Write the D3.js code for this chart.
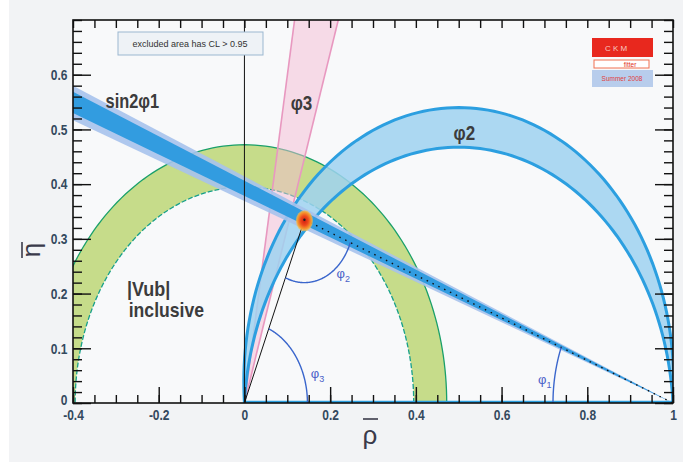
<!DOCTYPE html>
<meta charset="utf-8">
<script src="https://d3js.org/d3.v7.min.js"></script>
<body style="margin:0;background:#fff">
<div id="svg"></div>
<script>
// constraints (rho-bar, eta-bar)
var apex = [0.14, 0.335];            // global fit point
var vubRadii = [0.395, 0.472];       // |Vub| inclusive ring, inner / outer radius
var phi2Peaks = [0.4675, 0.54];      // phi2 arcs, eta at rho = 0.5
var phi3Edges = [0.117, 0.219];      // phi3 wedge, rho where edges cross eta = 0.7
var s2p1Outer = [0.517, 0.58];       // sin2phi1 band, eta at rho = -0.4 (outer)
var s2p1Inner = [0.53, 0.569];       // sin2phi1 band, eta at rho = -0.4 (inner)
var angleRadii = {phi1: 0.28, phi2: 0.115, phi3: 0.147};
var xTicks = [-0.4, -0.2, 0, 0.2, 0.4, 0.6, 0.8, 1];
var yTicks = [0, 0.1, 0.2, 0.3, 0.4, 0.5, 0.6];
var xMinor = d3.range(-0.4, 1.0001, 0.05);
var yMinor = d3.range(0, 0.7001, 0.02);

var W = 683, H = 464;
var x = d3.scaleLinear().domain([-0.4, 1]).range([73, 673]);
var y = d3.scaleLinear().domain([0, 0.7]).range([403, 20]);
var line = d3.line().x(function(d){return x(d[0]);}).y(function(d){return y(d[1]);});
var lf = 'Liberation Sans, Arial, sans-serif';

var svg = d3.select('#svg').append('svg').attr('width', W).attr('height', H);
svg.append('rect').attr('x', 9).attr('y', 0).attr('width', W - 9).attr('height', 462).attr('fill', '#f2f3f5');
svg.append('rect').attr('x', 73).attr('y', 20).attr('width', 600).attr('height', 383).attr('fill', '#f8f9fa');

var defs = svg.append('defs');
defs.append('clipPath').attr('id', 'clip').append('rect')
	.attr('x', 73).attr('y', 20).attr('width', 600).attr('height', 383);
var grad = defs.append('radialGradient').attr('id', 'blob');
grad.append('stop').attr('offset', '0%').attr('stop-color', '#d01e12');
grad.append('stop').attr('offset', '45%').attr('stop-color', '#ee4a1c');
grad.append('stop').attr('offset', '80%').attr('stop-color', '#f59a30');
grad.append('stop').attr('offset', '100%').attr('stop-color', '#f8c050').attr('stop-opacity', 0.6);

function arcPts(cx, cy, r, a0, a1){
	var n = 120, pts = [];
	for (var i = 0; i <= n; i++){
		var a = a0 + (a1 - a0) * i / n;
		pts.push([cx + r * Math.cos(a), cy + r * Math.sin(a)]);
	}
	return pts;
}
// circle through (0,0) and (1,0) with given top
function phi2Arc(p){
	var c = (p * p - 0.25) / (2 * p), r = p - c;
	var a1 = Math.atan2(-c, 0.5), a0 = Math.atan2(-c, -0.5);
	if (a0 < a1) a0 += 2 * Math.PI;
	return arcPts(0.5, c, r, a1, a0);
}

var g = svg.append('g').attr('clip-path', 'url(#clip)');

// |Vub| ring
var vub = arcPts(0, 0, vubRadii[1], 0, Math.PI).concat(arcPts(0, 0, vubRadii[0], Math.PI, 0));
g.append('path').attr('d', line(vub) + 'Z').attr('fill', '#c6dc8a');
g.append('path').attr('d', line(arcPts(0, 0, vubRadii[1], 0, Math.PI))).attr('fill', 'none')
	.attr('stroke', '#1aa06a').attr('stroke-width', 1.3);
g.append('path').attr('d', line(arcPts(0, 0, vubRadii[0], 0, Math.PI))).attr('fill', 'none')
	.attr('stroke', '#17a08a').attr('stroke-width', 1.3).attr('stroke-dasharray', '5,2');

// phi3 wedge
var k = 1.3;
var p3 = [[0, 0], [phi3Edges[0] * k, 0.7 * k], [phi3Edges[1] * k, 0.7 * k]];
g.append('path').attr('d', line(p3) + 'Z').attr('fill', '#f4bcd4').attr('fill-opacity', 0.5);
phi3Edges.forEach(function(e){
	g.append('path').attr('d', line([[0, 0], [e * k, 0.7 * k]])).attr('stroke', '#e898c0').attr('stroke-width', 1.6);
});

// phi2 crescent
var outer2 = phi2Arc(phi2Peaks[1]), inner2 = phi2Arc(phi2Peaks[0]);
g.append('path').attr('d', line(outer2.concat(inner2.slice().reverse())) + 'Z')
	.attr('fill', '#9fd2f0').attr('fill-opacity', 0.85);
[outer2, inner2].forEach(function(a){
	g.append('path').attr('d', line(a)).attr('fill', 'none').attr('stroke', '#2c9fe0').attr('stroke-width', 3);
});

// sin2phi1 wedge from (1,0)
function wedge(e){
	var s = 1.5 / 1.4;
	return [[1, 0], [-0.5, e[0] * s], [-0.5, e[1] * s]];
}
g.append('path').attr('d', line(wedge(s2p1Outer)) + 'Z').attr('fill', '#a6c2ec').attr('fill-opacity', 0.9);
g.append('path').attr('d', line(wedge(s2p1Inner)) + 'Z').attr('fill', '#329ce0');

// rho = 0 line and base of the triangle
g.append('line').attr('x1', x(0)).attr('x2', x(0)).attr('y1', y(0)).attr('y2', y(0.7))
	.attr('stroke', '#111').attr('stroke-width', 1);
g.append('line').attr('x1', x(0)).attr('x2', x(1)).attr('y1', y(0) - 1).attr('y2', y(0) - 1)
	.attr('stroke', '#2c9fe0').attr('stroke-width', 2.5);

// triangle sides
g.append('path').attr('d', line([[0, 0], apex])).attr('stroke', '#111').attr('stroke-width', 1);
g.append('path').attr('d', line([apex, [1, 0]])).attr('stroke', '#111').attr('stroke-width', 1.4)
	.attr('stroke-dasharray', '1.5,5');

// angle arcs
var aApex = Math.atan2(apex[1], apex[0]);
var arcs = [
	{pts: arcPts(0, 0, angleRadii.phi3, 0, aApex), lab: '3', at: [0.155, 0.045]},
	{pts: arcPts(apex[0], apex[1], angleRadii.phi2, Math.atan2(-apex[1], -apex[0]), Math.atan2(-apex[1], 1 - apex[0])), lab: '2', at: [0.215, 0.228]},
	{pts: arcPts(1, 0, angleRadii.phi1, Math.PI, Math.atan2(apex[1], apex[0] - 1)), lab: '1', at: [0.685, 0.035]}
];
arcs.forEach(function(a){
	g.append('path').attr('d', line(a.pts)).attr('fill', 'none').attr('stroke', '#3a66cc').attr('stroke-width', 1.4);
	var t = svg.append('text').attr('x', x(a.at[0])).attr('y', y(a.at[1]))
		.attr('font-family', lf).attr('font-size', 13)
		.attr('fill', '#4a60c8').text('φ');
	t.append('tspan').attr('dy', 4).attr('font-size', 9).text(a.lab);
});

// fit point
g.append('ellipse').attr('cx', x(apex[0])).attr('cy', y(apex[1]) + 1).attr('rx', 8.5).attr('ry', 10.5)
	.attr('fill', 'url(#blob)');
g.append('circle').attr('cx', x(apex[0])).attr('cy', y(apex[1])).attr('r', 1.2).attr('fill', '#222');

// axes (labels squeezed horizontally to mimic a narrow face)
function styleAxis(sel){
	sel.select('.domain').remove();
	sel.selectAll('line').attr('stroke', '#111').attr('stroke-width', 1.4);
	sel.selectAll('text').attr('font-family', lf).attr('font-weight', 'bold')
		.attr('font-size', 15).attr('fill', '#34495e').attr('transform', 'scale(0.8,1)');
}
var fmt = function(d){ return String(d); };
styleAxis(svg.append('g').attr('transform', 'translate(0,403)')
	.call(d3.axisBottom(x).tickValues(xTicks).tickSize(-16).tickPadding(6).tickFormat(fmt)));
styleAxis(svg.append('g').attr('transform', 'translate(0,403)')
	.call(d3.axisBottom(x).tickValues(xMinor).tickSize(-8).tickFormat('')));
styleAxis(svg.append('g').attr('transform', 'translate(0,20)')
	.call(d3.axisTop(x).tickValues(xMinor).tickSize(-8).tickFormat('')));
var yax = svg.append('g').attr('transform', 'translate(73,0)')
	.call(d3.axisLeft(y).tickValues(yTicks).tickSize(-18).tickPadding(7).tickFormat(fmt));
styleAxis(yax);
yax.selectAll('.tick text').filter(function(d){ return d === 0; }).attr('dy', '0.1em');
styleAxis(svg.append('g').attr('transform', 'translate(73,0)')
	.call(d3.axisLeft(y).tickValues(yMinor).tickSize(-9).tickFormat('')));
styleAxis(svg.append('g').attr('transform', 'translate(673,0)')
	.call(d3.axisRight(y).tickValues(yTicks).tickSize(-18).tickFormat('')));
styleAxis(svg.append('g').attr('transform', 'translate(673,0)')
	.call(d3.axisRight(y).tickValues(yMinor).tickSize(-9).tickFormat('')));
svg.append('rect').attr('x', 73).attr('y', 20).attr('width', 600).attr('height', 383)
	.attr('fill', 'none').attr('stroke', '#111').attr('stroke-width', 1.6);

// axis titles
svg.append('text').attr('x', 370).attr('y', 444).attr('text-anchor', 'middle')
	.attr('font-family', lf).attr('font-size', 26).attr('fill', '#3a3a4a').text('ρ');
svg.append('line').attr('x1', 363).attr('x2', 378).attr('y1', 419).attr('y2', 419).attr('stroke', '#3a3a4a').attr('stroke-width', 1.6);
var et = svg.append('g').attr('transform', 'translate(40,250) rotate(-90)');
et.append('text').attr('x', 0).attr('y', 0).attr('text-anchor', 'middle')
	.attr('font-family', lf).attr('font-size', 26).attr('fill', '#3a3a4a').text('η');
et.append('line').attr('x1', -8).attr('x2', 8).attr('y1', -18).attr('y2', -18).attr('stroke', '#3a3a4a').attr('stroke-width', 1.6);

// band labels
function label(txt, px, py, size, sx){
	svg.append('text').attr('transform', 'translate(' + x(px) + ',' + y(py) + ') scale(' + sx + ',1)')
		.attr('font-family', lf).attr('font-weight', 'bold').attr('font-size', size)
		.attr('fill', '#3c3c3c').text(txt);
}
label('sin2φ1', -0.324, 0.54, 20, 0.82);
label('φ3', 0.108, 0.535, 20, 0.85);
label('φ2', 0.488, 0.48, 20, 0.85);
label('|Vub|', -0.274, 0.196, 20, 0.9);
label('inclusive', -0.27, 0.157, 20, 0.88);

// legend box
svg.append('rect').attr('x', 118).attr('y', 32).attr('width', 145).attr('height', 23)
	.attr('fill', '#eef2f6').attr('stroke', '#9bb8d0').attr('stroke-width', 1);
svg.append('text').attr('x', 190).attr('y', 47).attr('text-anchor', 'middle').attr('font-family', lf)
	.attr('font-size', 9).attr('fill', '#333').text('excluded area has CL > 0.95');

// CKMfitter logo
svg.append('rect').attr('x', 592).attr('y', 38).attr('width', 61).attr('height', 19).attr('fill', '#e8281e');
svg.append('text').attr('x', 616).attr('y', 51).attr('text-anchor', 'middle').attr('font-family', lf)
	.attr('font-size', 8).attr('fill', '#f8c8c0').text('C K M');
svg.append('rect').attr('x', 594).attr('y', 60).attr('width', 55).attr('height', 8).attr('fill', '#fff')
	.attr('stroke', '#f07050').attr('stroke-width', 1);
svg.append('text').attr('x', 630).attr('y', 67).attr('text-anchor', 'middle').attr('font-family', lf)
	.attr('font-size', 6.5).attr('fill', '#e03020').text('fitter');
svg.append('rect').attr('x', 592).attr('y', 70).attr('width', 61).attr('height', 17).attr('fill', '#b8cdec');
svg.append('text').attr('x', 622).attr('y', 81).attr('text-anchor', 'middle').attr('font-family', lf)
	.attr('font-size', 6.5).attr('fill', '#e04040').text('Summer 2008');
</script>
</body>
